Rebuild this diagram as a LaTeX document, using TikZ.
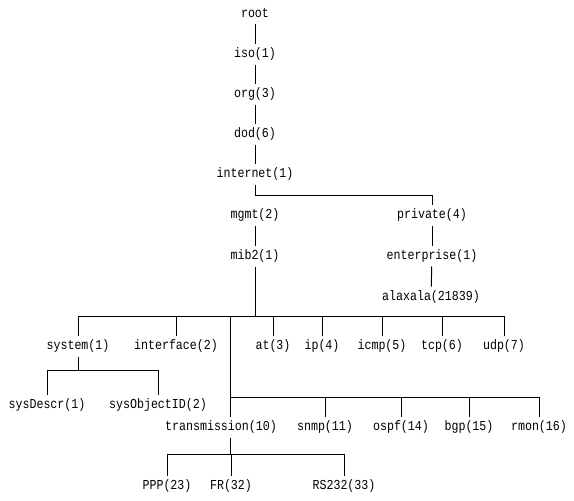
\documentclass[tikz,border=0pt]{standalone}
\usepackage{fontspec}
\setmonofont[FakeStretch=0.85]{Liberation Mono}
\usepackage{tikz}

\begin{document}
\begin{tikzpicture}[x=1pt, y=-1pt, line width=1pt,
    oid/.style={font=\fontsize{13.7}{16}\ttfamily, inner sep=0pt, minimum height=20pt}]
        \useasboundingbox (0,0) rectangle (574,501);

        % root .. internet
        \node[oid] (root) at (255,13) {root};
        \node[oid] (iso) at (255,54) {iso(1)};
        \node[oid] (org) at (255,94) {org(3)};
        \node[oid] (dod) at (255,134) {dod(6)};
        \node[oid] (internet) at (255,174) {internet(1)};
        \draw (root) -- (iso);
        \draw (iso) -- (org);
        \draw (org) -- (dod);
        \draw (dod) -- (internet);

        % mgmt / private
        \node[oid] (mgmt) at (255,215) {mgmt(2)};
        \node[oid] (mib2) at (255,256) {mib2(1)};
        \node[oid] (private) at (432,215) {private(4)};
        \node[oid] (enterprise) at (432,256) {enterprise(1)};
        \node[oid] (alaxala) at (431,297) {alaxala(21839)};
        \coordinate (bus1) at (255,195);
        \draw (internet) -- (bus1) -| (private);
        \draw (mgmt) -- (mib2);
        \draw (private) -- (enterprise);
        \draw (enterprise) -- (alaxala);

        % mib2 children
        \coordinate (bus2) at (255,316);
        \coordinate (trunk) at (230,316);
        \draw (mib2) -- (bus2);
        \foreach \x/\name/\txt in {78/system/system(1), 176/interface/interface(2),
                273/at3/at(3), 322/ip/ip(4), 382/icmp/icmp(5), 442/tcp/tcp(6), 504/udp/udp(7)}
            {
            \node[oid] (\name) at (\x,346) {\txt};
            \draw (\name) -- (\name |- bus2);
            }
        \draw (system |- bus2) -- (udp |- bus2);

        % system children
        \coordinate (bus5) at (78,370);
        \node[oid] (sysdescr) at (47,405) {sysDescr(1)};
        \node[oid] (sysobjectid) at (158,405) {sysObjectID(2)};
        \draw (system) -- (bus5);
        \draw (sysdescr) -- (sysdescr |- bus5) -- (sysobjectid |- bus5) -- (sysobjectid);

        % second row
        \node[oid] (transmission) at (221,427) {transmission(10)};
        \coordinate (bus3) at (230,397);
        \draw (trunk) -- (trunk |- transmission.north);
        \foreach \x/\name/\txt in {325/snmp/snmp(11), 401/ospf/ospf(14),
                469/bgp/bgp(15), 539/rmon/rmon(16)}
            {
            \node[oid] (\name) at (\x,427) {\txt};
            \draw (\name) -- (\name |- bus3);
            }
        \draw (bus3) -- (rmon |- bus3);

        % transmission children
        \coordinate (bus4) at (230,454);
        \draw (trunk |- transmission.south) -- (bus4);
        \foreach \x/\name/\txt in {167/ppp/PPP(23), 231/fr/FR(32), 344/rs232/RS232(33)}
            {
            \node[oid] (\name) at (\x,486) {\txt};
            \draw (\name) -- (\name |- bus4);
            }
        \draw (ppp |- bus4) -- (rs232 |- bus4);
    \end{tikzpicture}
\end{document}
